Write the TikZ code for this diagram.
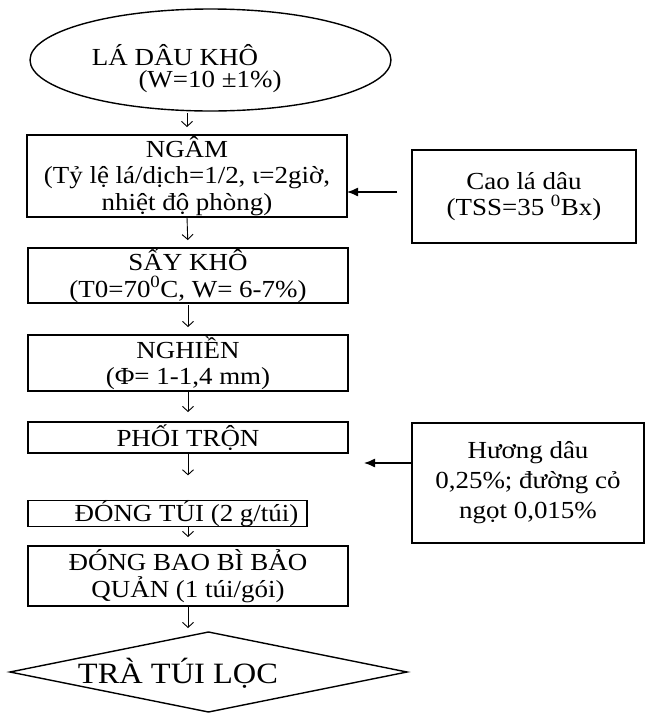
\documentclass[tikz,border=0pt]{standalone}
\usepackage{fontspec}
\setmainfont[FakeStretch=1.1]{Liberation Serif}
\usetikzlibrary{shapes.geometric,arrows.meta}
\begin{document}
\begin{tikzpicture}[x=1pt,y=1pt,
  box/.style={draw, line width=1.6pt, inner sep=0pt, outer sep=0pt, align=center, font=\fontsize{24.5}{26.5}\selectfont},
  txt/.style={inner sep=0pt, outer sep=0pt, font=\fontsize{24.5}{26.5}\selectfont},
  flow/.style={-{Straight Barb[length=5pt,width=11pt]}, line width=0.9pt},
  side/.style={-{Latex[length=11pt,width=9pt]}, line width=1.3pt}]
\useasboundingbox (0,0) rectangle (645,-713);
% start ellipse
\node[ellipse, draw, line width=1.4pt, minimum width=361pt, minimum height=102pt, inner sep=0pt, outer sep=0pt] (e) at (210.5,-60) {};
\node[txt, anchor=base] (e1) at (175,-65) {LÁ DÂU KHÔ};
\node[txt, anchor=base] (e2) at (210,-87) {(W=10 ±1\%)};
% main boxes
\node[box, minimum width=320pt, minimum height=82pt] (ngam) at (187,-176) {NGÂM\\(Tỷ lệ lá/dịch=1/2, ι=2giờ,\\nhiệt độ phòng)};
\node[box, minimum width=320pt, minimum height=55pt] (say) at (188,-275.5) {SẤY KHÔ\\(T0=70\textsuperscript{0}C, W= 6-7\%)};
\node[box, minimum width=320pt, minimum height=56pt] (nghien) at (188,-363) {NGHIỀN\\(Φ= 1-1,4 mm)};
\node[box, minimum width=320pt, minimum height=31pt] (phoi) at (188,-437.5) {PHỐI TRỘN};
\node[box, minimum width=279pt, minimum height=23pt] (dongtui) at (167.5,-513.5) {\hspace*{38pt}ĐÓNG TÚI (2 g/túi)};
\node[box, minimum width=320pt, minimum height=60pt] (dongbao) at (188,-576) {ĐÓNG BAO BÌ BẢO\\QUẢN (1 túi/gói)};
% end diamond
\node[diamond, draw, line width=1.4pt, minimum width=397pt, minimum height=80pt, inner sep=0pt, outer sep=0pt] (d) at (208.5,-672) {};
\node[txt, anchor=base, font=\fontsize{29.5}{32}\selectfont] (dtxt) at (178,-683) {TRÀ TÚI LỌC};
% side boxes
\node[box, minimum width=224pt, minimum height=93pt] (cao) at (524,-196.5) {Cao lá dâu\\(TSS=35 \textsuperscript{0}Bx)};
\node[box, font=\fontsize{24.5}{30}\selectfont, minimum width=232pt, minimum height=120pt] (huong) at (528,-483) {Hương dâu\\0,25\%; đường cỏ\\ngọt 0,015\%};
% flow arrows
\draw[flow, shorten <=2pt, shorten >=8pt] (e.south -| ngam.north) -- (ngam.north);
\draw[flow, shorten >=8pt] (ngam.south) -- (say.north);
\draw[flow, shorten <=2pt, shorten >=8pt] (say.south) -- (nghien.north);
\draw[flow, shorten >=10pt] (nghien.south) -- (phoi.north);
\draw[flow, shorten >=25pt] (phoi.south) -- (dongtui.north -| phoi.south);
\draw[flow, shorten >=9pt] (dongtui.south -| dongbao.north) -- (dongbao.north);
\draw[flow, shorten >=4pt] (dongbao.south) -- (dongbao.south |- d.north);
% side arrows
\draw[side, shorten <=15pt] ([yshift=4.5pt]cao.west) -- ([yshift=4.5pt]cao.west -| ngam.east);
\draw[side, shorten <=1pt, shorten >=16pt] ([yshift=20pt]huong.west) -- ([yshift=20pt]huong.west -| phoi.east);
\end{tikzpicture}
\end{document}
